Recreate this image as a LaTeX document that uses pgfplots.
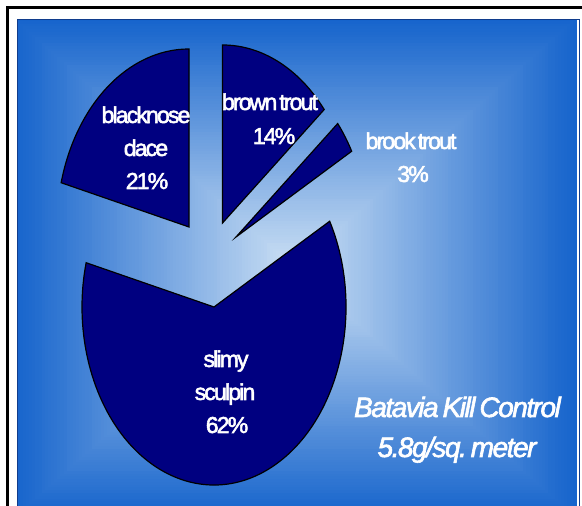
\documentclass[border=0pt]{standalone}
\usepackage{fontspec}
\usepackage{pgfplots}
\pgfplotsset{compat=1.18}
\newfontfamily\labfont[LetterSpace=-8,FakeBold=2.4]{Liberation Sans}
\newfontfamily\ttlfont[LetterSpace=-5.3,FakeBold=2.2]{Liberation Sans}
\definecolor{pienavy}{RGB}{0,0,128}
\definecolor{bgout}{RGB}{22,100,204}
\definecolor{bgin}{RGB}{204,224,244}
\definecolor{bgedge}{RGB}{16,60,140}
% slice: centre x, centre y (axis units = bp), cumulative percent before, percent
\newcommand\pieslice[4]{%
  \filldraw[fill=pienavy, draw=black, line width=1.2bp, line join=miter]
    (axis cs:#1,#2) -- ++({90-3.6*(#3)}:132bp and 178bp)
    arc[start angle={90-3.6*(#3)}, end angle={90-3.6*(#3+#4)}, x radius=132bp, y radius=178bp]
    -- cycle;}
\newcommand\lab[3]{\node[anchor=base, inner sep=0pt, text=white,
   font=\labfont\fontsize{23bp}{28bp}\selectfont] at (axis cs:#1,#2) {#3};}
\newcommand\ttl[3]{\node[anchor=base, inner sep=0pt, text=white,
   font=\ttlfont\itshape\fontsize{28bp}{34bp}\selectfont] at (axis cs:#1,#2) {#3};}
\begin{document}
\begin{tikzpicture}[x=1bp,y=1bp]
\useasboundingbox (0,0) rectangle (582,506);
\fill[white] (0,0) rectangle (582,506);
\begin{scope}
\clip (17,-1) rectangle (580,486.7);
\foreach \i in {0,...,89}{
  \pgfmathsetmacro\t{1-\i/90}
  \pgfmathtruncatemacro\p{100*\i/89}
  \fill[bgin!\p!bgout] ({295-281.5*\t},{238-250*\t}) rectangle ({295+281.5*\t},{238+250*\t});
}
\end{scope}
\draw[bgedge, line width=0.8bp] (17.4,-2) -- (17.4,486.3) -- (579.6,486.3) -- (579.6,-2);
\draw[black, line width=2.7bp] (7.35,-2) -- (7.35,498.65) -- (584,498.65);
\begin{axis}[at={(0,0)}, anchor=south west, width=582bp, height=506bp,
  scale only axis, xmin=0, xmax=582, ymin=0, ymax=506, hide axis, clip=false]
% brown trout 14, brook trout 3, slimy sculpin 62, blacknose dace 21
\pieslice{222.5}{283}{0}{14}
\pieslice{236}{269}{14}{3}
\pieslice{214}{199}{17}{62}
\pieslice{189}{279}{79}{21}
\lab{146}{383}{blacknose}
\lab{146}{350}{dace}
\lab{147}{317}{21\%}
\lab{270}{396}{brown\hspace{2bp}trout}
\lab{274}{362}{14\%}
\lab{411}{357}{brook\hspace{2bp}trout}
\lab{413}{324}{3\%}
\lab{226}{139}{slimy}
\lab{225}{106}{sculpin}
\lab{227}{73}{62\%}
\ttl{457.5}{89}{Batavia\hspace{4bp}Kill\hspace{4bp}Control}
\ttl{457}{49}{5.8g/sq.\hspace{4bp}meter}
\end{axis}
\end{tikzpicture}
\end{document}
